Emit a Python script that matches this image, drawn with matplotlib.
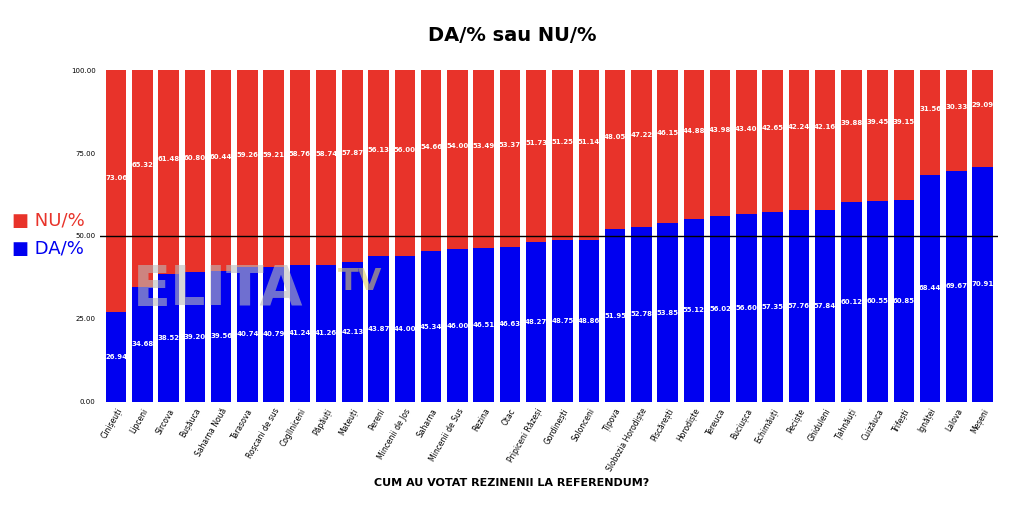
import matplotlib
matplotlib.use("Agg")
import matplotlib.pyplot as plt
import numpy as np

localitati = ["Cinișeuți", "Lipceni", "Sîrcova", "Bușăuca", "Saharna Nouă", "Tarasova",
              "Roșcani de sus", "Cogîlniceni", "Păpăuți", "Mateuți", "Pereni", "Mincenii de Jos",
              "Saharna", "Mincenii de Sus", "Rezina", "Otac", "Pripiceni Răzeși", "Gordinești",
              "Solonceni", "Țîpova", "Slobozia Horodiște", "Pîscărești", "Horodiște", "Tereuca",
              "Buciușca", "Echimăuți", "Peciște", "Ghiduleni", "Țahnăuți", "Cuizăuca", "Trifești",
              "Ignăței", "Lalova", "Meșeni"]
da = [26.94, 34.68, 38.52, 39.20, 39.56, 40.74, 40.79, 41.24, 41.26, 42.13, 43.87, 44.00,
      45.34, 46.00, 46.51, 46.63, 48.27, 48.75, 48.86, 51.95, 52.78, 53.85, 55.12, 56.02,
      56.60, 57.35, 57.76, 57.84, 60.12, 60.55, 60.85, 68.44, 69.67, 70.91]
nu = [73.06, 65.32, 61.48, 60.80, 60.44, 59.26, 59.21, 58.76, 58.74, 57.87, 56.13, 56.00,
      54.66, 54.00, 53.49, 53.37, 51.73, 51.25, 51.14, 48.05, 47.22, 46.15, 44.88, 43.98,
      43.40, 42.65, 42.24, 42.16, 39.88, 39.45, 39.15, 31.56, 30.33, 29.09]

RED = "#e8332a"
BLUE = "#0000f0"

fig = plt.figure(figsize=(10.24, 5.08), dpi=100)
ax = fig.add_axes([0.098, 0.209, 0.877, 0.653])
x = np.arange(len(localitati))
da = np.array(da)
nu = np.array(nu)
ax.bar(x, da, width=0.78, color=BLUE)
ax.bar(x, nu, bottom=da, width=0.78, color=RED)

for i in x:
    ax.text(i, da[i] / 2, f"{da[i]:.2f}", color="white", fontsize=5, fontweight="bold",
            ha="center", va="center")
    ax.text(i, da[i] + nu[i] / 2 + 4, f"{nu[i]:.2f}", color="white", fontsize=5,
            fontweight="bold", ha="center", va="center")

ax.axhline(50, color="black", lw=1)
ax.set_xlim(-0.6, len(localitati) - 0.4)
ax.set_ylim(0, 100)
ax.set_yticks([0, 25, 50, 75, 100])
ax.set_yticklabels([f"{v:.2f}" for v in [0, 25, 50, 75, 100]], fontsize=5)
ax.set_xticks(x)
ax.set_xticklabels(localitati, rotation=60, ha="right", rotation_mode="anchor", fontsize=5.5)
ax.tick_params(length=0)
for s in ax.spines.values():
    s.set_visible(False)

fig.text(0.5, 0.93, "DA/% sau NU/%", ha="center", va="center", fontsize=14, fontweight="bold")
fig.text(0.5, 0.05, "CUM AU VOTAT REZINENII LA REFERENDUM?", ha="center", va="center",
         fontsize=8, fontweight="bold")
fig.text(0.012, 0.565, "■ NU/%", color=RED, fontsize=13, va="center")
fig.text(0.012, 0.51, "■ DA/%", color=BLUE, fontsize=13, va="center")
fig.text(0.13, 0.40, "ELITA", color="#bbbbbb", fontsize=40, fontweight="bold", alpha=0.6)
fig.text(0.33, 0.43, "TV", color="#ddcc66", fontsize=22, fontweight="bold", alpha=0.6)

fig.savefig("out.png", dpi=100, facecolor="white")
